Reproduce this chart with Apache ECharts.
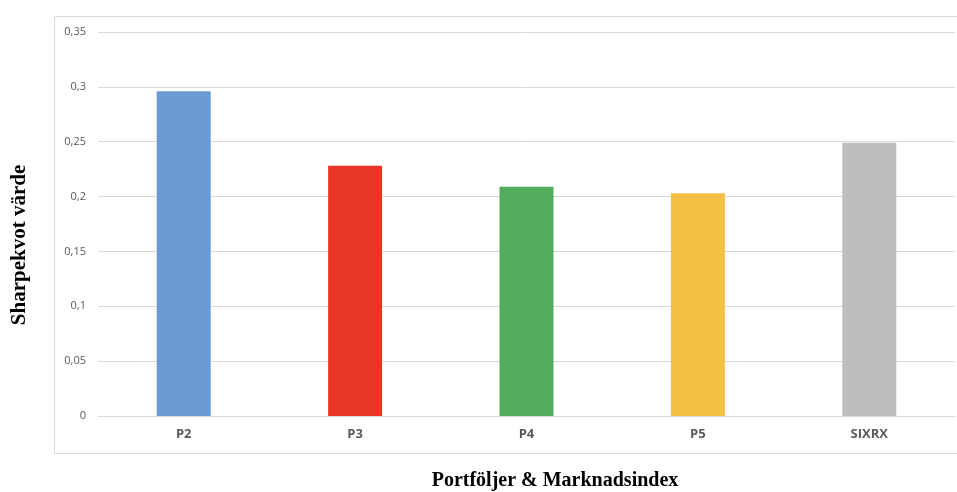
<!DOCTYPE html>
<html>
<head>
<meta charset="utf-8">
<script src="https://cdn.jsdelivr.net/npm/echarts@6/dist/echarts.min.js"></script>
<style>
html,body{margin:0;padding:0;background:#fff;}
#chart{width:957px;height:492px;}
</style>
</head>
<body>
<div id="chart"></div>
<script>
const categories = ["P2", "P3", "P4", "P5", "SIXRX"];
const sharpeValues = [0.296, 0.228, 0.209, 0.203, 0.249];
const barColors = ["#6a9bd3", "#e83525", "#52ac5e", "#f4c044", "#bdbdbd"];
const yTitle = "Sharpekvot värde";
const xTitle = "Portföljer & Marknadsindex";

const chart = echarts.init(document.getElementById('chart'), null, {renderer: 'canvas'});
chart.setOption({
  animation: false,
  backgroundColor: '#ffffff',
  grid: {left: 98, right: 2, top: 32, bottom: 76, containLabel: false},
  xAxis: {
    type: 'category',
    data: categories,
    axisLine: {show: true, lineStyle: {color: '#d9d9d9', width: 1}},
    axisTick: {show: false},
    axisLabel: {color: '#595959', fontWeight: 'bold', fontSize: 13, fontFamily: 'Open Sans', margin: 12}
  },
  yAxis: {
    type: 'value',
    min: 0, max: 0.35, interval: 0.05,
    axisLine: {show: false},
    axisTick: {show: false},
    splitLine: {lineStyle: {color: '#d9d9d9', width: 1}},
    axisLabel: {
      color: '#595959', fontSize: 11, fontFamily: 'Open Sans', margin: 12,
      formatter: v => String(Math.round(v * 100) / 100).replace('.', ',')
    }
  },
  series: [{
    type: 'bar',
    data: sharpeValues.map((v, i) => ({value: v, itemStyle: {color: barColors[i]}})),
    barWidth: '31.5%'
  }],
  graphic: [
    {type: 'rect', shape: {x: 54.5, y: 16.5, width: 930, height: 437}, style: {fill: 'none', stroke: '#d9d9d9', lineWidth: 1}, z: -1},
    {type: 'text', x: 20, y: 245, rotation: Math.PI / 2,
     style: {text: yTitle, font: 'bold 21px "Liberation Serif"', fill: '#000', align: 'center', verticalAlign: 'middle'}},
    {type: 'text', x: 555, y: 481,
     style: {text: xTitle, font: 'bold 20px "Liberation Serif"', fill: '#000', align: 'center', verticalAlign: 'middle'}}
  ]
});
</script>
</body>
</html>
